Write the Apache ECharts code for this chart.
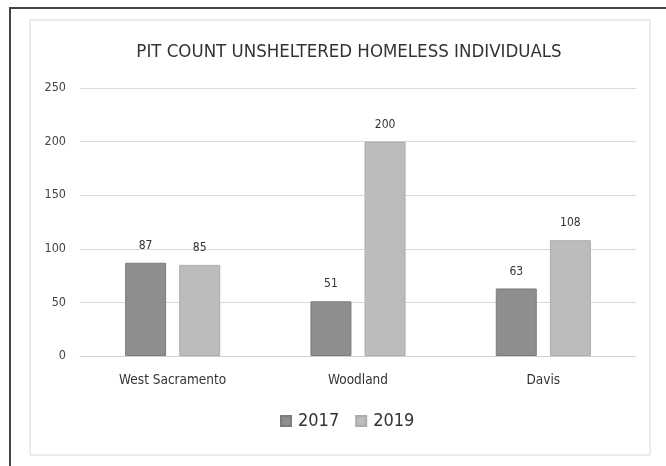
<!DOCTYPE html>
<html><head><meta charset="utf-8">
<script src="https://cdn.jsdelivr.net/npm/echarts@6/dist/echarts.min.js"></script>
<style>html,body{margin:0;padding:0;background:#fff}#c{width:666px;height:466px}</style>
</head><body><div id="c"></div>
<script>
const categories = ['West Sacramento', 'Woodland', 'Davis'];
const values2017 = [87, 51, 63];
const values2019 = [85, 200, 108];
const yTicks = [0, 50, 100, 150, 200, 250];
const titleText = 'PIT COUNT UNSHELTERED HOMELESS INDIVIDUALS';

const font = '"DejaVu Sans Condensed", "Liberation Sans Narrow", "Liberation Sans", sans-serif';
const chart = echarts.init(document.getElementById('c'), null, {renderer: 'canvas'});
const labelStyle = {show: true, position: 'top', distance: 11, color: '#333', fontSize: 12, fontFamily: font};
chart.setOption({
  backgroundColor: '#fff',
  animation: false,
  title: {text: titleText, left: 344, textAlign: 'center', top: 38,
    textStyle: {fontFamily: font, fontSize: 18.5, fontWeight: 'normal', color: '#333'}},
  grid: {left: 80, right: 30, top: 88, bottom: 110, containLabel: false},
  legend: {data: ['2017', '2019'], bottom: 31, left: 275, itemWidth: 10, itemHeight: 10, itemGap: 16,
    icon: 'rect', textStyle: {fontFamily: font, fontSize: 18, color: '#333', padding: [0, 0, 0, 2]}},
  xAxis: {type: 'category', data: categories,
    axisLine: {lineStyle: {color: '#d0d0d0'}}, axisTick: {show: false},
    axisLabel: {fontFamily: font, fontSize: 13.5, color: '#333', margin: 17}},
  yAxis: {type: 'value', min: yTicks[0], max: yTicks[yTicks.length - 1], interval: 50,
    axisLine: {show: false}, axisTick: {show: false},
    axisLabel: {fontFamily: font, fontSize: 12.5, color: '#444', margin: 14},
    splitLine: {lineStyle: {color: '#dadada'}}},
  series: [
    {name: '2017', type: 'bar', data: values2017, barWidth: 41, barGap: '32%',
      itemStyle: {color: '#8e8e8e', borderColor: '#7c7c7c', borderWidth: 1}, label: labelStyle},
    {name: '2019', type: 'bar', data: values2019, barWidth: 41,
      itemStyle: {color: '#bcbcbc', borderColor: '#acacac', borderWidth: 1}, label: labelStyle}
  ],
  graphic: [
    {type: 'rect', shape: {x: 30, y: 20, width: 620, height: 435}, style: {fill: 'none', stroke: '#d8d8d8', lineWidth: 1}, silent: true},
    {type: 'polyline', shape: {points: [[10, 466], [10, 8], [666, 8]]}, style: {fill: 'none', stroke: '#444', lineWidth: 2}, silent: true}
  ]
});
</script></body></html>
